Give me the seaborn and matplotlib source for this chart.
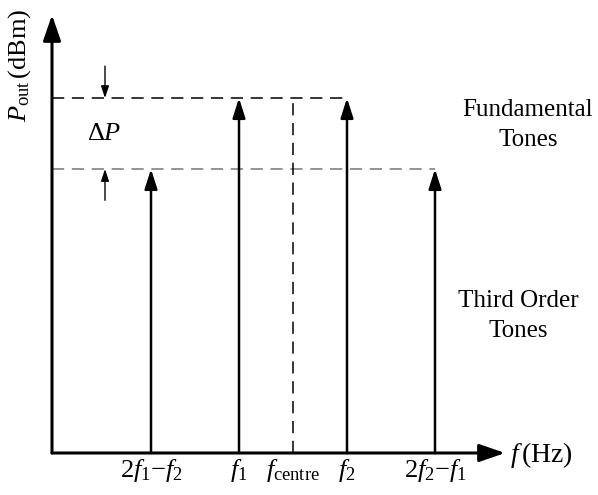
import matplotlib
matplotlib.use("Agg")
import matplotlib.pyplot as plt
import seaborn as sns

# Tone positions along the frequency axis and their output powers
tone_labels = ["$2f_1{-}f_2$", "$f_1$", "$f_{\\mathrm{centre}}$", "$f_2$", "$2f_2{-}f_1$"]
tone_freq = [0.99, 1.87, 2.41, 2.95, 3.83]
tone_power = [40, 50, None, 50, 40]   # third-order, fundamental, (centre), fundamental, third-order
fund_level = 50
third_level = 40

sns.set_theme(style="white")
plt.rcParams["font.family"] = ["Liberation Serif", "DejaVu Serif"]
plt.rcParams["text.color"] = "black"
plt.rcParams["xtick.color"] = "black"
plt.rcParams["xtick.labelcolor"] = "black"
plt.rcParams["mathtext.fontset"] = "custom"
plt.rcParams["mathtext.rm"] = "Liberation Serif"
plt.rcParams["mathtext.it"] = "Liberation Serif:italic"
plt.rcParams["mathtext.bf"] = "Liberation Serif:bold"

W, H = 598, 495
fig = plt.figure(figsize=(W / 100, H / 100), dpi=100)
ax = fig.add_axes([52 / W, (H - 453) / H, (505 - 52) / W, (453 - 15) / H])
ax.set_xlim(0, 4.53)
ax.set_ylim(0, 61.7)
for s in ax.spines.values():
    s.set_visible(False)
ax.set_yticks([])
ax.set_facecolor("none")

# Axes drawn as arrows
for end in [(1.0, 0), (0, 1.0)]:
    ax.annotate("", xy=end, xytext=(0, 0), xycoords="axes fraction",
                arrowprops=dict(arrowstyle="-|>,head_length=1.3,head_width=0.45", lw=2.2,
                                color="black", shrinkA=0, shrinkB=0),
                annotation_clip=False)

# Reference levels
ax.plot([0, tone_freq[3]], [fund_level, fund_level], color="black", lw=1.1, dashes=(8, 5))
ax.plot([0, tone_freq[4]], [third_level, third_level], color="#777777", lw=1.1, dashes=(8, 5))
ax.plot([tone_freq[2], tone_freq[2]], [0, fund_level], color="black", lw=1.1, dashes=(8, 5))

# Tone stems
for f, p in zip(tone_freq, tone_power):
    if p is None:
        continue
    ax.annotate("", xy=(f, p), xytext=(f, 0),
                arrowprops=dict(arrowstyle="-|>,head_length=1.0,head_width=0.32", lw=1.8,
                                color="black", shrinkA=0, shrinkB=0))

# Delta P markers
dp_x = 0.53
ax.annotate("", xy=(dp_x, fund_level), xytext=(dp_x, 54.5),
            arrowprops=dict(arrowstyle="-|>,head_length=0.6,head_width=0.2", lw=1.0,
                            color="black", shrinkA=0, shrinkB=0))
ax.annotate("", xy=(dp_x, third_level), xytext=(dp_x, 35.6),
            arrowprops=dict(arrowstyle="-|>,head_length=0.6,head_width=0.2", lw=1.0,
                            color="black", shrinkA=0, shrinkB=0))
ax.text(0.52, 45.0, "$\\Delta P$", fontsize=19, ha="center", va="center")

# Tick labels
ax.set_xticks(tone_freq)
ax.set_xticklabels(tone_labels, fontsize=19)
ax.tick_params(axis="x", length=0, pad=3, colors="black")

# Annotations
ax.text(4.76, 46.2, "Fundamental\nTones", fontsize=18, ha="center", va="center",
        linespacing=1.45, clip_on=False)
ax.text(4.66, 19.3, "Third Order\nTones", fontsize=18, ha="center", va="center",
        linespacing=1.45, clip_on=False)

fig.text(510 / W, 1 - 455 / H, "$f\\,$(Hz)", fontsize=20, ha="left", va="center")
fig.text(20 / W, 1 - 65 / H, "$P_{\\mathrm{out}}\\,$(dBm)", fontsize=19, ha="center", va="center",
         rotation=90)

fig.savefig("out.png", dpi=100)
